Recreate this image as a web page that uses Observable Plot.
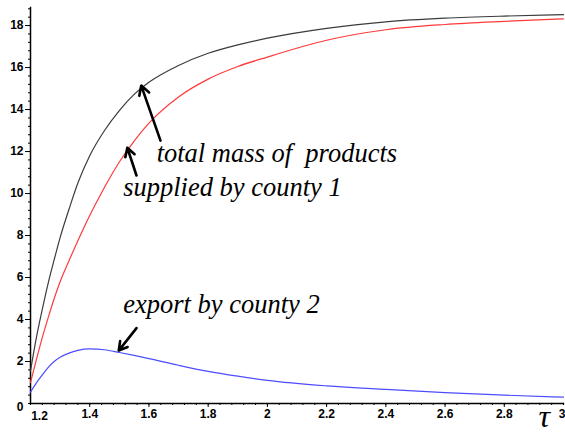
<!DOCTYPE html>
<html>
<head>
<meta charset="utf-8">
<script src="https://cdn.jsdelivr.net/npm/d3@7"></script>
<script src="https://cdn.jsdelivr.net/npm/@observablehq/plot@0.6"></script>
<style>
  html, body { margin: 0; padding: 0; background: #fff; }
  #chart svg { display: block; }
</style>
</head>
<body>
<div id="chart"></div>
<script>
// τ sample points
const tau      = [1.2, 1.22, 1.24, 1.26, 1.28, 1.3, 1.33, 1.36, 1.4, 1.45, 1.5, 1.55, 1.6, 1.7, 1.8, 1.9, 2.0, 2.2, 2.4, 2.6, 2.8, 3.0];
// total mass of products (black)
const total    = [1.55, 3.15, 4.5, 5.75, 6.85, 7.9, 9.25, 10.5, 11.8, 13.0, 13.95, 14.72, 15.3, 16.1, 16.68, 17.08, 17.4, 17.87, 18.18, 18.35, 18.45, 18.52];
// supplied by county 1 (red)
const supplied = [1.0, 2.1, 3.15, 4.1, 5.0, 5.8, 6.8, 7.75, 8.95, 10.3, 11.5, 12.5, 13.35, 14.6, 15.45, 16.05, 16.5, 17.3, 17.8, 18.05, 18.2, 18.32];
// export by county 2 (blue)
const exportC2 = [0.54, 0.98, 1.36, 1.72, 2.0, 2.2, 2.4, 2.53, 2.6, 2.56, 2.43, 2.29, 2.14, 1.82, 1.53, 1.3, 1.1, 0.84, 0.67, 0.52, 0.4, 0.3];

// tick values
const xTicks = [1.4, 1.6, 1.8, 2, 2.2, 2.4, 2.6, 2.8];
const xLast = [3];
const xMinor = d3.range(1.2, 3.0001, 0.04);
const yTicks = [2, 4, 6, 8, 10, 12, 14, 16, 18];
const yMinor = d3.range(0, 18.9, 0.4);

// annotations (data units)
const labelText = ["total mass of\u00a0 products", "supplied by county 1", "export by county 2"];
const labelX    = [1.626, 1.513, 1.513];
const labelY    = [11.48, 9.90, 4.29];
const arrowX1 = [1.639, 1.558, 1.558];
const arrowY1 = [12.52, 10.86, 3.59];
const arrowX2 = [1.574, 1.527, 1.498];
const arrowY2 = [15.14, 12.18, 2.52];

const rows = tau.map((t, i) => ({tau: t, total: total[i], supplied: supplied[i], exp: exportC2[i]}));
const labels = labelText.map((t, i) => ({text: t, x: labelX[i], y: labelY[i]}));
const arrows = arrowX1.map((x, i) => ({x1: x, y1: arrowY1[i], x2: arrowX2[i], y2: arrowY2[i]}));

const serif = {fontFamily: "'Liberation Serif', 'DejaVu Serif', serif", fontStyle: "italic", fontWeight: "normal"};

const chart = Plot.plot({
  width: 565,
  height: 434,
  marginLeft: 30,
  marginRight: 2,
  marginTop: 7,
  marginBottom: 31,
  style: {fontFamily: "'Liberation Sans', Arial, sans-serif", fontSize: "12px", fontWeight: "bold", background: "#fff"},
  x: {domain: [1.2, 3]},
  y: {domain: [0, 18.86]},
  marks: [
    Plot.axisX({ticks: xMinor, tickSize: 2, tickFormat: () => "", label: null}),
    Plot.axisX({ticks: xTicks, tickSize: 4, tickPadding: 2, label: null, tickFormat: d => String(d)}),
    Plot.axisX({ticks: xLast, tickSize: 4, tickPadding: 2, label: null, tickFormat: d => String(d), textAnchor: "end", dx: 2}),
    Plot.axisY({ticks: yMinor, tickSize: 2, tickFormat: () => "", label: null}),
    Plot.axisY({ticks: yTicks, tickSize: 5, tickPadding: 2, label: null}),
    Plot.text([1.2], {x: d => d, frameAnchor: "bottom", text: d => "1.2", dx: 9, dy: 8, lineAnchor: "top"}),
    Plot.text([0], {y: d => d, frameAnchor: "left", text: d => "0", dx: -7, dy: 4, textAnchor: "end"}),
    Plot.frame({anchor: "left", stroke: "#000", strokeWidth: 1.5}),
    Plot.frame({anchor: "bottom", stroke: "#000", strokeWidth: 1.5}),
    Plot.line(rows, {x: "tau", y: "supplied", stroke: "#ff3a3a", strokeWidth: 1.2, curve: "monotone-x"}),
    Plot.line(rows, {x: "tau", y: "total", stroke: "#3c3c3c", strokeWidth: 1.2, curve: "monotone-x"}),
    Plot.line(rows, {x: "tau", y: "exp", stroke: "#4d4dff", strokeWidth: 1.2, curve: "monotone-x"}),
    Plot.arrow(arrows, {x1: "x1", y1: "y1", x2: "x2", y2: "y2", stroke: "#000", strokeWidth: 2.6, headLength: 6, headAngle: 60}),
    Plot.text(labels, {x: "x", y: "y", text: "text", textAnchor: "start", lineAnchor: "bottom", fontSize: 26.5, fill: "#000", ...serif}),
    Plot.text(["τ"], {x: () => 2.935, y: () => -1.1, text: d => d, textAnchor: "middle", lineAnchor: "bottom", fontSize: 32, fill: "#000", ...serif})
  ]
});
document.getElementById("chart").appendChild(chart);
</script>
</body>
</html>
